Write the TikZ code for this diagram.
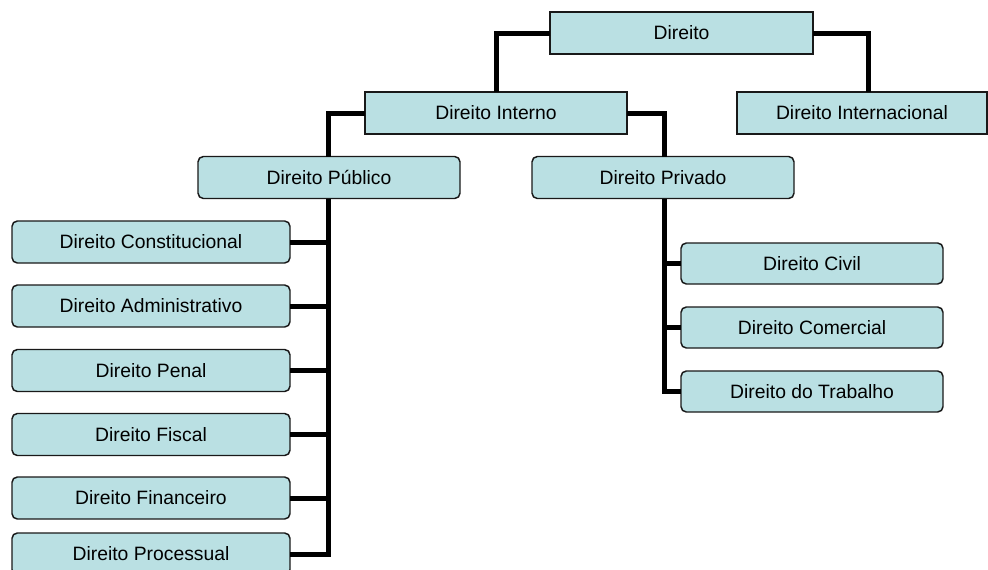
\documentclass[tikz,border=0pt]{standalone}
\usepackage{fontspec}
\setmainfont{Liberation Sans}
\definecolor{boxfill}{RGB}{186,224,227}
\definecolor{boxline}{RGB}{25,25,25}
\begin{document}
\begin{tikzpicture}[x=0.75pt,y=-0.75pt,
  box/.style={draw=boxline, fill=boxfill, line width=1.1pt, inner sep=0pt, outer sep=0pt,
    minimum height=42*0.75pt, font=\fontsize{14.5pt}{16pt}\selectfont, text=black},
  sqbox/.style={box},
  rbox/.style={box, rounded corners=4pt},
  link/.style={line width=3.75pt, black, line join=miter}]
\useasboundingbox (0,0) rectangle (988,569);
\coordinate (pubx) at (328,0);
\coordinate (privx) at (664,0);
% nodes
\node[sqbox, minimum width=263*0.75pt] (dir) at (681.5,33) {Direito};
\node[sqbox, minimum width=262*0.75pt] (int) at (496,113) {Direito Interno};
\node[sqbox, minimum width=250*0.75pt] (inter) at (862,113) {Direito Internacional};
\node[rbox, minimum width=262*0.75pt] (pub) at (329,177.5) {Direito Público};
\node[rbox, minimum width=262*0.75pt] (priv) at (663,177.5) {Direito Privado};
\node[rbox, minimum width=278*0.75pt] (const) at (151,242) {Direito Constitucional};
\node[rbox, minimum width=278*0.75pt] (adm) at (151,306) {Direito Administrativo};
\node[rbox, minimum width=278*0.75pt] (pen) at (151,370.5) {Direito Penal};
\node[rbox, minimum width=278*0.75pt] (fisc) at (151,434.5) {Direito Fiscal};
\node[rbox, minimum width=278*0.75pt] (fin) at (151,498) {Direito Financeiro};
\node[rbox, minimum width=278*0.75pt] (proc) at (151,554) {Direito Processual};
\node[rbox, minimum width=262*0.75pt, minimum height=41*0.75pt] (civ) at (812,263.5) {Direito Civil};
\node[rbox, minimum width=262*0.75pt, minimum height=41*0.75pt] (com) at (812,327.5) {Direito Comercial};
\node[rbox, minimum width=262*0.75pt, minimum height=41*0.75pt] (trab) at (812,391.5) {Direito do Trabalho};
% links
\draw[link] (dir.west) -| (int.north);
\draw[link] (dir.east) -| ([xshift=4.5pt]inter.north);
\draw[link] (int.west) -| (pubx |- pub.north);
\draw[link] (int.east) -| (privx |- priv.north);
\draw[link] (pubx |- pub.south) |- (proc.east);
\foreach \c in {const,adm,pen,fisc,fin}{
  \draw[link] (\c.east) -- (pubx |- \c.east);
}
\draw[link] (privx |- priv.south) |- (trab.west);
\foreach \c in {civ,com}{
  \draw[link] (\c.west) -- (privx |- \c.west);
}
\end{tikzpicture}
\end{document}
